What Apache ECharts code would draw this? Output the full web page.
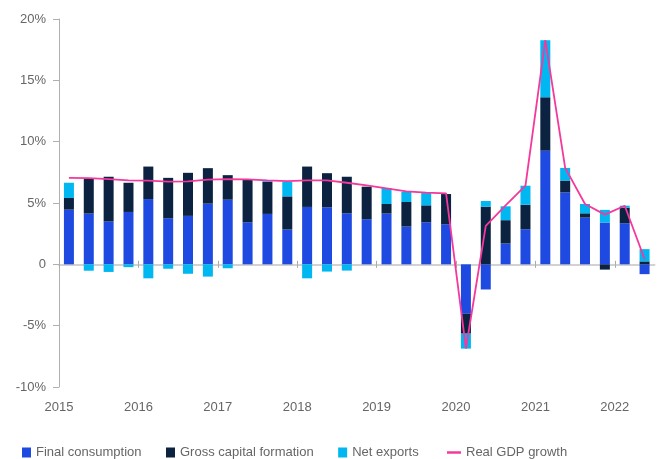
<!DOCTYPE html>
<html>
<head>
<meta charset="utf-8">
<script src="https://cdn.jsdelivr.net/npm/echarts@6/dist/echarts.min.js"></script>
<style>html,body{margin:0;padding:0;background:#fff}#c{width:657px;height:459px}</style>
</head>
<body>
<div id="c"></div>
<script>
const quarters = [
  '2015Q1','2015Q2','2015Q3','2015Q4','2016Q1','2016Q2','2016Q3','2016Q4',
  '2017Q1','2017Q2','2017Q3','2017Q4','2018Q1','2018Q2','2018Q3','2018Q4',
  '2019Q1','2019Q2','2019Q3','2019Q4','2020Q1','2020Q2','2020Q3','2020Q4',
  '2021Q1','2021Q2','2021Q3','2021Q4','2022Q1','2022Q2'
];
const yearLabels = ['2015','2016','2017','2018','2019','2020','2021','2022'];
const yearTickPositions = [0, 4, 8, 12, 16, 20, 24, 28];
const finalConsumption = [4.46,4.14,3.49,4.27,5.32,3.76,3.95,4.95,5.27,3.43,4.11,2.84,4.68,4.65,4.16,3.68,4.14,3.08,3.43,3.27,-4.03,-2.05,1.70,2.86,9.27,5.86,3.81,3.41,3.35,-0.80];
const grossCapitalFormation = [0.95,2.86,3.65,2.38,2.65,3.29,3.51,2.89,2.00,3.52,2.62,2.70,3.29,2.78,2.98,2.65,0.78,2.00,1.38,2.46,-1.62,4.70,1.90,2.00,4.35,0.97,0.35,-0.43,1.27,0.24];
const netExports = [1.24,-0.52,-0.62,-0.23,-1.14,-0.36,-0.77,-1.00,-0.32,0,0.10,1.19,-1.14,-0.59,-0.51,0,1.30,0.84,1.00,0,-1.22,0.46,1.13,1.55,4.65,1.03,0.76,1.03,0.16,1.00];
const realGdpGrowth = [7.05,7.03,6.95,6.85,6.82,6.75,6.76,6.90,6.95,6.93,6.85,6.78,6.85,6.85,6.65,6.43,6.20,5.95,5.85,5.78,-6.86,3.14,4.80,6.41,18.27,7.86,4.92,4.05,4.78,0.43];
const yMin = -10, yMax = 20, yStep = 5;

const FONT = 'Liberation Sans, Arial, sans-serif';
const chart = echarts.init(document.getElementById('c'), null, {renderer: 'canvas'});

const tickAxisBase = {
  type: 'value', min: 0, max: quarters.length, gridIndex: 0,
  axisLabel: {show: false}, splitLine: {show: false}
};

chart.setOption({
  animation: false,
  backgroundColor: '#fff',
  grid: {left: 59, right: 2.5, top: 19, bottom: 72, containLabel: false},
  legend: [
    {
      left: 17, top: 441, itemWidth: 9, itemHeight: 10, itemGap: 24.5,
      icon: 'rect',
      data: ['Final consumption', 'Gross capital formation', 'Net exports'],
      textStyle: {fontFamily: FONT, fontSize: 13, color: '#666'}
    },
    {
      left: 442, top: 441, itemWidth: 14, itemHeight: 2.5,
      icon: 'rect',
      data: ['Real GDP growth'],
      textStyle: {fontFamily: FONT, fontSize: 13, color: '#666'}
    }
  ],
  xAxis: [
    {
      type: 'category', data: quarters, boundaryGap: true, gridIndex: 0,
      axisLine: {show: false, onZero: false}, axisTick: {show: false},
      axisLabel: {show: false}, splitLine: {show: false}
    },
    Object.assign({}, tickAxisBase, {
      position: 'bottom',
      axisLine: {show: false, onZero: false},
      axisTick: {show: false},
      axisLabel: {
        show: true, customValues: yearTickPositions, margin: 14,
        fontFamily: FONT, fontSize: 13, color: '#666',
        formatter: v => yearLabels[yearTickPositions.indexOf(v)] || ''
      }
    }),
    Object.assign({}, tickAxisBase, {
      position: 'bottom',
      axisLine: {show: true, onZero: true, onZeroAxisIndex: 0, lineStyle: {color: '#d2d2d2', width: 2}},
      axisTick: {show: true, customValues: yearTickPositions, inside: false, length: 3.5, lineStyle: {color: '#aaa', width: 1}}
    }),
    Object.assign({}, tickAxisBase, {
      position: 'bottom',
      axisLine: {show: true, onZero: true, onZeroAxisIndex: 0, lineStyle: {color: 'rgba(0,0,0,0)', width: 0}},
      axisTick: {show: true, customValues: yearTickPositions, inside: true, length: 3.5, lineStyle: {color: '#aaa', width: 1}}
    })
  ],
  yAxis: {
    type: 'value', min: yMin, max: yMax, interval: yStep,
    axisLine: {show: true, lineStyle: {color: '#b0b0b0', width: 1}},
    axisTick: {show: true, length: 6, lineStyle: {color: '#b0b0b0'}},
    splitLine: {show: false},
    axisLabel: {
      margin: 13, fontFamily: FONT, fontSize: 13, color: '#666',
      formatter: v => v === 0 ? '0' : v + '%'
    }
  },
  series: [
    {name: 'Final consumption', type: 'bar', stack: 'gdp', xAxisIndex: 0, barWidth: 10,
     itemStyle: {color: '#1F4AE1'}, data: finalConsumption},
    {name: 'Gross capital formation', type: 'bar', stack: 'gdp', xAxisIndex: 0, barWidth: 10,
     itemStyle: {color: '#0B2240'}, data: grossCapitalFormation},
    {name: 'Net exports', type: 'bar', stack: 'gdp', xAxisIndex: 0, barWidth: 10,
     itemStyle: {color: '#00B7F1'}, data: netExports},
    {name: 'Real GDP growth', type: 'line', xAxisIndex: 0, z: 5,
     symbol: 'none', lineStyle: {color: '#F5389B', width: 1.8}, itemStyle: {color: '#F5389B'},
     data: realGdpGrowth}
  ]
});
</script>
</body>
</html>
